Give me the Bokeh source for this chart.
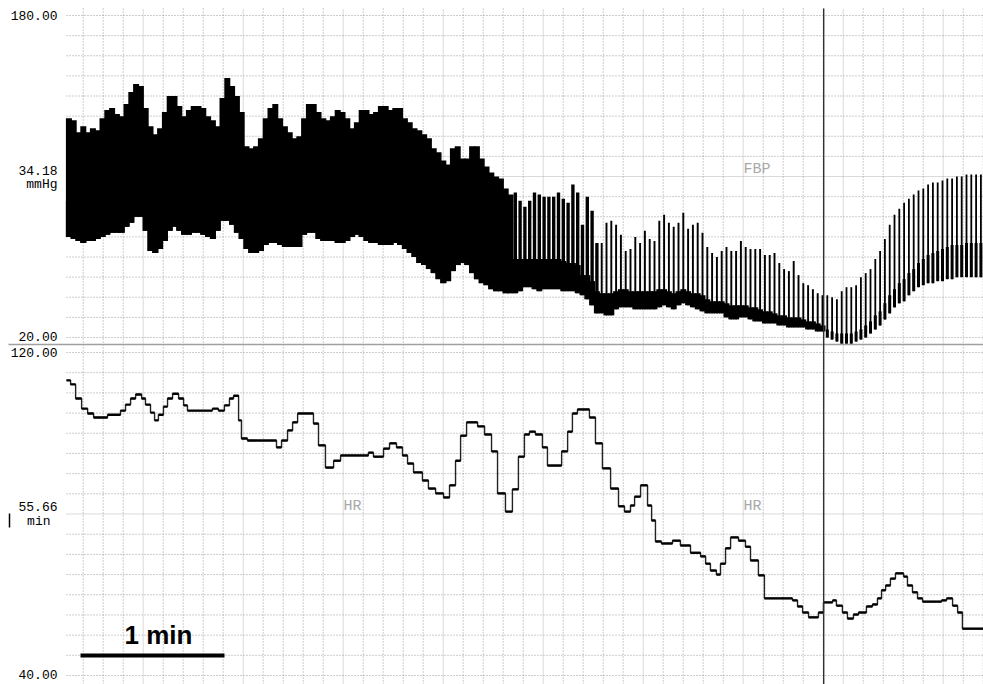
import numpy as np
from bokeh.plotting import figure
from bokeh.models import Range1d, Label, ColumnDataSource, Grid
from bokeh.embed import file_html
from bokeh.resources import INLINE

# ---------------- data ----------------
# finger blood pressure (FBP, mmHg), one sample every 2 s
fbp_start_s = 1.0
fbp_step_s = 2.0
fbp_sys = [129,128,122,125,122,124,123,129,133,134,
           131,130,136,142,146,145,134,125,121,124,
           132,140,140,135,130,133,135,135,134,130,
           128,125,139,149,145,140,132,115,114,115,
           119,129,134,136,129,125,122,119,120,129,
           136,136,132,129,128,130,133,132,129,124,
           127,133,133,131,132,135,135,133,134,134,
           129,127,124,123,121,119,114,112,108,106,
           114,115,109,109,115,115,109,105,102,100,
           99,94,91,92,88,85,88,92,91,90,
           90,90,92,89,87,96,92,76,90,83,
           67,67,77,78,76,71,63,64,70,67,
           73,69,68,78,81,77,75,77,82,74,
           76,77,72,65,62,60,63,65,63,63,
           68,65,64,64,64,61,61,62,57,54,
           53,58,51,47,46,44,42,41,41,40,
           39,43,45,45,46,50,52,54,59,63,
           69,76,81,84,87,89,91,93,94,96,
           97,97,98,99,99,100,100,101,101,101,101]
fbp_dia = [70,69,68,67,68,68,69,70,71,72,
           72,72,75,77,80,80,73,63,62,64,
           68,73,75,73,71,71,72,72,71,70,
           69,73,78,78,76,72,69,64,62,62,
           63,66,67,67,66,65,65,65,65,71,
           72,72,69,68,68,68,67,67,68,70,
           71,70,68,67,67,66,66,66,67,66,
           64,62,60,57,56,54,52,49,47,48,
           53,56,57,56,52,49,47,46,44,43,
           43,42,42,42,43,45,45,44,43,44,
           44,44,44,43,43,43,42,41,39,36,
           32,32,31,31,34,35,35,35,34,34,
           34,34,34,35,36,35,34,36,37,36,
           35,34,33,32,32,32,32,30,29,29,
           30,30,29,28,28,27,27,27,26,26,
           25,25,25,25,24,24,23,23,20,19,
           18,17,17,17,18,19,20,22,24,26,
           29,32,35,37,38,41,43,45,46,47,
           47,48,48,49,49,50,50,50,50,50,50]
fbp_body = [88,88,86,86,86,86,88,88,89,89,
            88,89,91,93,96,96,91,83,82,83,
            88,92,93,92,89,90,91,91,90,88,
            88,88,94,96,94,92,88,81,79,79,
            81,84,86,86,84,83,82,82,82,86,
            88,88,87,86,86,86,86,86,86,86,
            87,87,86,85,85,85,85,85,85,84,
            82,81,79,77,76,74,72,70,68,68,
            72,74,73,72,71,69,67,66,64,63,
            62,61,59,59,59,59,59,59,59,59,
            59,59,59,58,57,57,56,51,51,48,
            43,42,42,42,43,44,44,43,43,43,
            43,43,43,44,44,43,42,43,44,43,
            42,42,41,39,38,38,38,37,36,36,
            36,36,35,35,34,33,33,32,31,31,
            30,30,30,29,28,28,27,26,24,23,
            22,22,22,22,23,24,26,28,31,33,
            37,41,44,47,49,52,54,57,59,61,
            62,63,64,65,66,66,66,67,67,67,67]

# heart rate (HR, beats/min), step changes: time (s) -> value
hr_t = [0.0,1.7,3.8,6.3,8.8,11.3,17.1,22.5,24.6,26.7,
        28.8,31.3,32.9,35.0,36.7,38.3,40.4,42.1,44.2,46.7,
        48.8,50.4,60.8,63.3,65.8,67.9,69.6,71.7,72.9,75.4,
        87.5,89.6,92.1,94.2,96.3,102.9,105.0,107.9,111.3,114.2,
        125.8,127.9,132.1,134.6,137.5,140.0,142.1,144.6,148.3,150.8,
        153.8,157.1,159.6,162.1,164.2,166.7,171.3,174.2,177.1,179.6,
        182.9,185.8,188.3,190.8,192.9,195.4,198.3,200.4,206.3,208.8,
        210.8,212.9,217.9,220.4,223.3,226.7,230.0,232.5,235.0,236.7,
        239.2,242.1,243.8,245.4,247.9,252.5,255.8,260.0,264.2,266.3,
        268.3,270.8,272.5,274.6,276.7,280.0,282.9,285.0,288.3,290.8,
        302.5,304.6,306.7,309.2,313.3,315.4,319.2,320.8,323.3,325.4,
        327.9,330.0,333.3,335.8,337.9,339.6,341.3,343.3,345.4,348.8,
        350.4,352.5,354.6,356.7,364.6,366.7,369.2,371.3,373.3]
hr_bpm = [113.1,112.1,108.6,106.1,104.9,103.9,104.6,105.6,107.1,108.6,
          109.6,108.6,107.1,105.1,103.2,104.6,106.6,108.6,109.8,108.6,
          106.9,105.6,106.1,105.6,106.9,108.6,109.3,103.2,98.7,98.2,
          96.5,98.2,100.7,102.7,104.9,102.4,97.0,91.5,93.2,94.5,
          95.2,94.2,96.2,97.5,96.5,94.5,92.5,90.3,88.3,86.3,
          85.1,84.1,87.1,93.2,99.4,102.7,101.7,99.7,95.5,85.1,
          80.6,86.1,94.2,99.7,100.4,99.7,96.5,92.0,95.5,100.4,
          104.9,105.9,103.9,97.5,91.3,86.3,81.9,80.6,82.1,84.3,
          87.1,82.1,78.4,73.2,72.7,73.4,72.2,70.4,69.5,67.7,
          66.0,65.0,67.7,71.5,74.2,73.4,71.9,68.5,64.8,59.1,
          58.6,57.1,55.6,54.4,55.6,58.1,58.6,57.3,55.6,54.1,
          55.1,55.6,57.1,57.6,59.1,61.1,62.3,64.0,65.3,64.5,
          62.3,60.6,59.1,58.3,58.6,59.1,57.3,55.6,51.6]
rec_end_s = 382.1

cursor_t = 315.5
cursor_labels = {"FBP": "34.18", "HR": "55.66"}
bp_lim = (20, 180)
hr_lim = (40, 120)
scale_bar_s = 60

# ---------------- layout ----------------
W, H = 983, 684
PX_PER_S = 2.4
LEFT = 66
BP_TOP, BP_BOT = 15, 337      # pixel rows of 180 / 20
HR_TOP, HR_BOT = 352, 675     # pixel rows of 120 / 40
MONO = "'Liberation Mono', 'Courier New', monospace"

def t_of(xpx):
    return (xpx - LEFT) / PX_PER_S

def ly(ypx):
    return H - ypx

bp_per_px = (bp_lim[1] - bp_lim[0]) / (BP_BOT - BP_TOP)
hr_per_px = (hr_lim[1] - hr_lim[0]) / (HR_BOT - HR_TOP)

p = figure(width=W, height=H, output_backend="svg", toolbar_location=None,
           x_range=Range1d(t_of(0), t_of(W)), y_range=Range1d(0, H),
           x_axis_location=None, y_axis_location=None, min_border=0,
           outline_line_color=None, background_fill_color="white",
           border_fill_color="white")
for r in list(p.center):
    if isinstance(r, Grid):
        r.visible = False

p.extra_y_ranges = {
    "bp": Range1d(bp_lim[0] - (H - BP_BOT) * bp_per_px, bp_lim[1] + BP_TOP * bp_per_px),
    "hr": Range1d(hr_lim[0] - (H - HR_BOT) * hr_per_px, hr_lim[1] + HR_TOP * hr_per_px),
}

# ---------------- grid ----------------
t0, t1 = 0.0, t_of(W)
minor_col, major_col = "#9a9a9a", "#b4b4b4"

def hline(v, rng, major):
    r = p.segment(x0=t0, x1=t1, y0=v, y1=v, y_range_name=rng,
                  line_color=major_col if major else minor_col,
                  line_width=1, line_dash="1 1" if major else "1 2")
    r.level = "image"

for v in range(bp_lim[0], bp_lim[1] + 1, 10):
    hline(v, "bp", v == 100)
for v in range(hr_lim[0], hr_lim[1] + 1, 5):
    hline(v, "hr", v == 80)

k = 0
xg = 82.7
while xg < W:
    major = (k % 5 == 3)
    r = p.segment(x0=t_of(xg), x1=t_of(xg), y0=0, y1=ly(8),
                  line_color=major_col if major else minor_col,
                  line_width=1, line_dash="1 1" if major else "1 2")
    r.level = "image"
    xg += 20
    k += 1

# separator between panels
p.segment(x0=t_of(8), x1=t1, y0=ly(344), y1=ly(344), line_color="#a0a0a0", line_width=1.5)

def lab(xpx, ypx, text, size, align="right", color="black", font=MONO,
        style="normal", level="annotation"):
    p.add_layout(Label(x=t_of(xpx), y=ly(ypx), text=text, text_font=font,
                       text_font_size=f"{size}px", text_align=align,
                       text_baseline="middle", text_color=color,
                       text_font_style=style, level=level))

# channel names (under the traces)
for xx in (343, 743):
    lab(xx, 169, "FBP", 15, align="left", color="#a8a8a8", level="underlay")
    lab(xx, 506, "HR", 15, align="left", color="#a8a8a8", level="underlay")

# ---------------- FBP trace ----------------
n = len(fbp_sys)
t = fbp_start_s + fbp_step_s * np.arange(n)
w_sys = np.select([t < 187, t < 222, t < 316], [2.5, 1.4, 0.8], 0.75)
w_body = np.where(t < 316, 2.5, 1.25)
src = ColumnDataSource(dict(t=t, sys=fbp_sys, dia=fbp_dia, body=fbp_body,
                            ws=w_sys, wb=w_body))
p.vbar(x="t", width="ws", bottom="dia", top="sys", source=src, y_range_name="bp",
       fill_color="black", line_color=None)
p.vbar(x="t", width="wb", bottom="dia", top="body", source=src, y_range_name="bp",
       fill_color="black", line_color=None)

# ---------------- HR trace ----------------
hx = list(hr_t) + [rec_end_s]
hy = list(hr_bpm) + [hr_bpm[-1]]
p.step(x=hx, y=hy, mode="after", y_range_name="hr", line_color="#222222", line_width=1.4)
p.segment(x0=hx[:-1], x1=hx[1:], y0=hr_bpm, y1=hr_bpm, y_range_name="hr",
          line_color="black", line_width=2.4)

# ---------------- cursor ----------------
p.segment(x0=cursor_t, x1=cursor_t, y0=0, y1=ly(8), line_color="#303030", line_width=1.4)

# ---------------- axis texts ----------------
lab(57, 15, f"{bp_lim[1]:.2f}", 13)
lab(57, 170, cursor_labels["FBP"], 13)
lab(57, 184, "mmHg", 13)
lab(57, 336, f"{bp_lim[0]:.2f}", 13)
lab(57, 352, f"{hr_lim[1]:.2f}", 13)
lab(57, 506, cursor_labels["HR"], 13)
lab(50, 521, "min", 13)
lab(57, 674, f"{hr_lim[0]:.2f}", 13)
p.segment(x0=t_of(9), x1=t_of(9), y0=ly(513), y1=ly(527), line_color="black", line_width=1.5)

# scale bar
sb_x0 = t_of(80)
p.segment(x0=sb_x0, x1=sb_x0 + scale_bar_s, y0=ly(655), y1=ly(655), line_color="black", line_width=4)
lab(158, 634, "1 min", 26, align="center", font="'Liberation Sans', Arial, sans-serif", style="bold")

open("out.html", "w").write(file_html(p, INLINE))
